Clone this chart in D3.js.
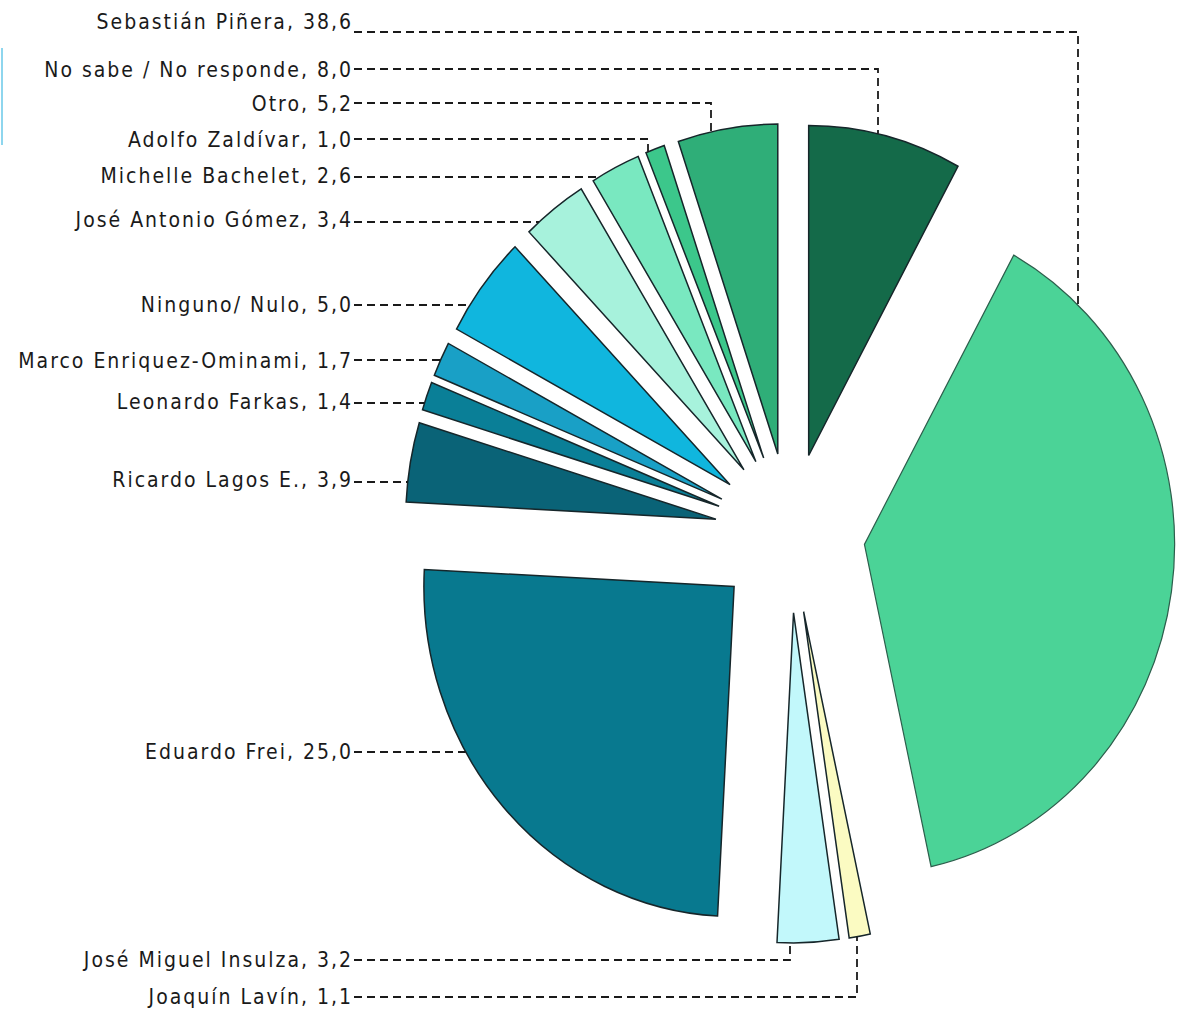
<!DOCTYPE html>
<meta charset="utf-8">
<style>
body { margin: 0; background: #fff; }
.label { font-family: "DejaVu Sans Condensed", "DejaVu Sans", sans-serif; font-size: 21px; fill: #1a1a1a; letter-spacing: 2px; }
.leader { fill: none; stroke: #1a1a1a; stroke-width: 1.8; stroke-dasharray: 8,5; }
</style>
<body>
<script src="https://d3js.org/d3.v7.min.js"></script>
<script>
"use strict";

// data, clockwise from 12 o'clock
var names = ["No sabe / No responde", "Sebastián Piñera", "Joaquín Lavín", "José Miguel Insulza",
  "Eduardo Frei", "Ricardo Lagos E.", "Leonardo Farkas", "Marco Enriquez-Ominami",
  "Ninguno/ Nulo", "José Antonio Gómez", "Michelle Bachelet", "Adolfo Zaldívar", "Otro"];
var values = [8.0, 38.6, 1.1, 3.2, 25.0, 3.9, 1.4, 1.7, 5.0, 3.4, 2.6, 1.0, 5.2];
var colors = ["#146a49", "#4bd397", "#fbfbc2", "#c2f8fb", "#08798f", "#0a6377", "#0a7f97",
  "#19a0c6", "#10b6de", "#a7f2dc", "#79e8c0", "#3cc78b", "#2fae78"];

// label layout (text centre y, leader y, elbow x or null)
var textY  = [70, 22, 997, 960, 752, 480, 402, 361, 305, 220, 176, 140, 104];
var lineY  = [69, 32, 997, 960, 752, 482, 403, 360, 305, 222, 177, 139, 103];
var elbowX = [878, 1078, 857, 790, null, null, null, null, null, null, null, 648, 711];

var width = 1188, height = 1013;
var cx = 790, cy = 533, R = 330, sx = 0.94, explode = 80;

var svg = d3.select("body").append("svg")
    .attr("width", width)
    .attr("height", height);

// stray frame edge on the left
svg.append("rect").attr("x", 1).attr("y", 48).attr("width", 2).attr("height", 97).attr("fill", "#8ed6ee");

var pie = d3.pie().sort(null).value(function(d) { return d; });
var arcs = pie(values);
var arc = d3.arc().innerRadius(0).outerRadius(R);

arcs.forEach(function(d, i) {
  var mid = (d.startAngle + d.endAngle) / 2;
  d.ox = explode * Math.sin(mid);
  d.oy = -explode * Math.cos(mid);
  d.ax = cx + sx * d.ox;
  d.ay = cy + d.oy;
  d.i = i;
});

var g = svg.append("g")
    .attr("transform", "translate(" + cx + "," + cy + ") scale(" + sx + ",1)");

g.selectAll("path")
  .data(arcs)
  .enter().append("path")
    .attr("transform", function(d) { return "translate(" + d.ox + "," + d.oy + ")"; })
    .attr("d", arc)
    .attr("fill", function(d) { return colors[d.i]; })
    .attr("stroke", function(d) { return d.i == 1 ? "#2d5e4c" : "#16262a"; })
    .attr("stroke-width", function(d) { return d.i == 1 ? 1.2 : 1.5; })
    .attr("vector-effect", "non-scaling-stroke");

function fmt(v) { return d3.format(".1f")(v).replace(".", ","); }

// leader lines
var x0 = 354;
svg.append("g").selectAll("path")
  .data(arcs)
  .enter().append("path")
    .attr("class", "leader")
    .attr("d", function(d) {
      var y = lineY[d.i], ex = elbowX[d.i], t;
      if (ex == null) {
        t = 2 * Math.PI - Math.acos((d.ay - y) / R);
        return "M" + x0 + "," + y + "H" + (d.ax + sx * R * Math.sin(t));
      }
      var s = Math.asin((ex - d.ax) / (sx * R));
      t = y < d.ay ? s : Math.PI - s;
      return "M" + x0 + "," + y + "H" + ex + "V" + (d.ay - R * Math.cos(t));
    });

svg.append("g").selectAll("text")
  .data(arcs)
  .enter().append("text")
    .attr("class", "label")
    .attr("x", 353)
    .attr("y", function(d) { return textY[d.i]; })
    .attr("dy", "0.35em")
    .attr("text-anchor", "end")
    .text(function(d) { return names[d.i] + ", " + fmt(values[d.i]); });
</script>
</body>
